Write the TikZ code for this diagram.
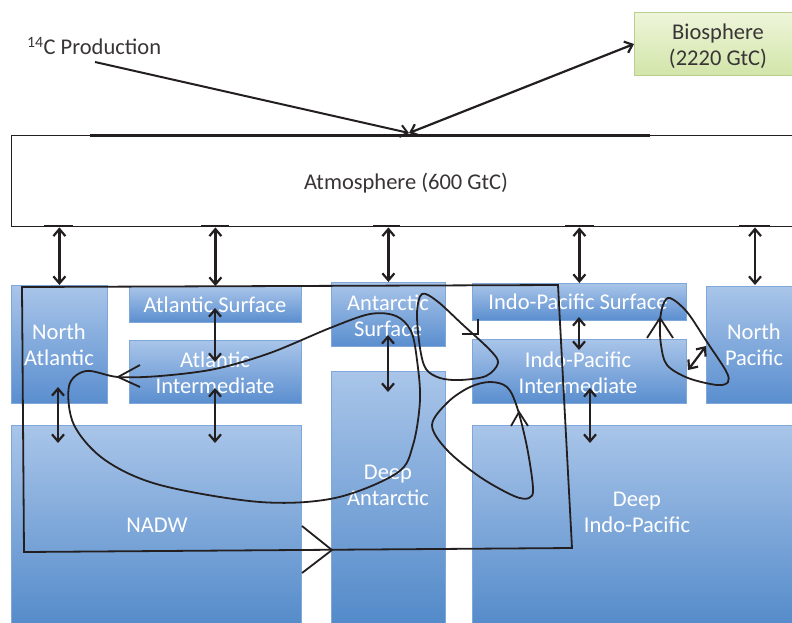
\documentclass[tikz,border=0pt]{standalone}
\usepackage{fontspec}
\setmainfont{Carlito}
\usetikzlibrary{arrows.meta}
\definecolor{boxtop}{HTML}{A9C5E9}
\definecolor{boxbot}{HTML}{5A8ECF}
\definecolor{deepbot}{HTML}{4A84C6}
\definecolor{boxedge}{HTML}{7FA7D9}
\definecolor{biotop}{HTML}{EEF5DA}
\definecolor{biobot}{HTML}{D2E5A9}
\definecolor{bioedge}{HTML}{B9D08C}
\definecolor{ink}{HTML}{231F20}
\begin{document}
\begin{tikzpicture}[x=1pt,y=-1pt,
  obox/.style={draw=boxedge, line width=0.8pt, top color=boxtop, bottom color=boxbot, inner sep=0pt, anchor=north west},
  dbox/.style={obox, bottom color=deepbot},
  otext/.style={text=white, align=center, font=\fontsize{22.5}{26}\selectfont, inner sep=0pt},
  btext/.style={text=ink!90, align=center, font=\fontsize{22.5}{26}\selectfont, inner sep=0pt},
  dbl/.style={draw=ink, line width=2.2pt, {Straight Barb[length=7pt,width=12pt]}-{Straight Barb[length=7pt,width=12pt]}},
  sgl/.style={draw=ink, line width=2pt, -{Straight Barb[length=7pt,width=12pt]}},
  flowline/.style={draw=ink, line width=1.8pt},
  chev/.style={draw=ink, line width=1.8pt, line join=miter},
]
\useasboundingbox (0,0) rectangle (792,622);
\clip (0,0) rectangle (792,622);

% Atmosphere
\node[draw=ink, line width=1.4pt, fill=white, minimum width=789pt, minimum height=91pt, anchor=north west, inner sep=0pt] (atm) at (11,135) {};
\node[btext] (atmt) at (406,183) {Atmosphere (600 GtC)};
\draw[ink, line width=3pt] (90,135) -- (650,135);
\foreach \a/\b in {44/73, 201/229, 373/400, 565/594, 739/770}
  \draw[ink, line width=2.6pt] (\a,226) -- (\b,226);

% Biosphere
\node[draw=bioedge, line width=0.8pt, top color=biotop, bottom color=biobot, minimum width=168pt, minimum height=63pt, anchor=north west, inner sep=0pt] (bio) at (634,12) {};
\node[btext] (biot) at (718,46) {Biosphere\\(2220 GtC)};

% 14C production
\node[btext, anchor=west] (prod) at (27,46) {\textsuperscript{14}C Production};

% Ocean boxes
\node[obox, minimum width=96pt, minimum height=118pt] (na) at (11,285) {};
\node[obox, minimum width=172pt, minimum height=36pt] (as) at (129,286) {};
\node[obox, minimum width=172pt, minimum height=63pt] (ai) at (129,340) {};
\node[dbox, minimum width=290pt, minimum height=225pt] (nadw) at (11,425) {};
\node[obox, minimum width=114pt, minimum height=64pt] (ants) at (331,282) {};
\node[dbox, minimum width=114pt, minimum height=279pt] (da) at (331,371) {};
\node[obox, minimum width=214pt, minimum height=37pt] (ips) at (472,283) {};
\node[obox, minimum width=214pt, minimum height=64pt] (ipi) at (472,339) {};
\node[obox, minimum width=94pt, minimum height=117pt] (np) at (706,286) {};
\node[dbox, minimum width=328pt, minimum height=225pt] (dip) at (472,425) {};

\node[otext] (nat) at (59,345) {North\\Atlantic};
\node[otext] (ast) at (215,305) {Atlantic Surface};
\node[otext] (ait) at (215,373) {Atlantic\\Intermediate};
\node[otext] (nadwt) at (157,525) {NADW};
\node[otext] (antst) at (388,316) {Antarctic\\Surface};
\node[otext] (dat) at (388,485) {Deep\\Antarctic};
\node[otext] (ipst) at (578,302) {Indo-Pacific Surface};
\node[otext] (ipit) at (578,373) {Indo-Pacific\\Intermediate};
\node[otext] (npt) at (754,345) {North\\Pacific};
\node[otext] (dipt) at (637,512) {Deep\\Indo-Pacific};

% top arrows
\coordinate (hit) at (409,133);
\coordinate (prodend) at (95,62);
\coordinate (bioend) at (634,44);
\draw[sgl] (prodend) -- (hit);
\draw[dbl] (hit) -- (bioend);

% atmosphere-ocean exchanges
\draw[dbl] (atm.south -| na.north) -- (na.north);
\draw[dbl] (atm.south -| as.north) -- (as.north);
\draw[dbl] (atm.south -| ants.north) -- (ants.north);
\draw[dbl] (atm.south -| ips.north) -- (ips.north);
\draw[dbl] (atm.south -| 755,0) -- (755,285);

% internal exchanges
\coordinate (e1a) at (215,308); \coordinate (e1b) at (215,362);
\coordinate (e2a) at (215,388); \coordinate (e2b) at (215,443);
\coordinate (e3a) at (58,387);  \coordinate (e3b) at (58,443);
\coordinate (e4a) at (388,335); \coordinate (e4b) at (388,392);
\coordinate (e5a) at (579,317); \coordinate (e5b) at (579,350);
\coordinate (e6a) at (590,388); \coordinate (e6b) at (590,443);
\coordinate (e7a) at (688,370); \coordinate (e7b) at (706,346);
\foreach \p in {1,...,7} \draw[dbl] (e\p a) -- (e\p b);

% big overturning rectangle
\draw[flowline, line join=miter] (22,287) -- (558,285) -- (572,548) -- (24,552) -- cycle;
\draw[chev] (302,526) -- (332,550) -- (302,573);

% Atlantic loop
\draw[flowline] plot[smooth cycle, tension=0.55] coordinates {
 (118,377) (86,371) (69,386) (74,425) (105,460) (160,485) (260,502) (335,498)
 (397,473) (413,445) (420,400) (417,360) (411,331) (396,316) (370,314)
 (330,328) (270,353) (215,369) (160,376)};
\draw[chev] (140,365) -- (118,377) -- (140,387);

% Antarctic / Indo-Pacific teardrop
\draw[flowline] plot[smooth cycle, tension=0.55] coordinates {
 (422,294) (437,301) (462,324) (490,350) (498,363) (486,376) (460,380)
 (440,378) (426,369) (420,348) (417,313)};
\draw[chev] (462,334) -- (478,334) -- (478,319);

% deep loop
\draw[flowline] plot[smooth cycle, tension=0.55] coordinates {
 (432,425) (448,402) (470,387) (490,382) (507,387) (517,407) (527,447)
 (533,488) (529,498) (514,496) (480,477) (447,450)};
\draw[chev] (511,426) -- (519,412) -- (528,426);

% North Pacific loop
\draw[flowline] plot[smooth cycle, tension=0.55] coordinates {
 (670,298) (687,312) (707,342) (726,371) (728,382) (717,385) (688,378)
 (667,365) (661,345) (660,322) (663,305)};
\draw[chev] (647,338) -- (660,318) -- (673,338);
\end{tikzpicture}
\end{document}
